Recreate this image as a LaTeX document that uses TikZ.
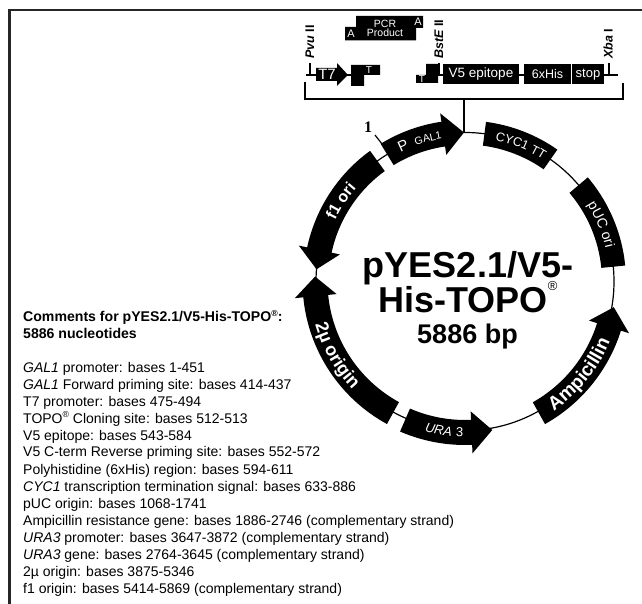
\documentclass[tikz,border=0pt]{standalone}
\usepackage{fontspec}
\setmainfont{Liberation Sans}
\setsansfont{Liberation Sans}
\usetikzlibrary{decorations.text}
\newcommand{\fsz}[1]{\fontsize{#1}{#1}\selectfont}
\newcommand{\regsup}{\raisebox{0.42em}{\fontsize{0.62em}{0.62em}\selectfont ®}}
\newcommand{\bigreg}{\raisebox{0.62em}{\fontsize{13}{13}\selectfont\mdseries ®}}
% tail angle, head-base angle, tip angle, radius
\newcommand{\plasarrow}[4]{%
 \fill[black] (#1:#4pt+12.5pt) arc[start angle=#1,end angle=#2,radius=#4pt+12.5pt]
  -- (#2:#4pt+21pt) -- (#3:#4pt) -- (#2:#4pt-21pt) -- (#2:#4pt-12.5pt)
  arc[start angle=#2,end angle=#1,radius=#4pt-12.5pt] -- cycle;}
% start angle, end angle, radius
\newcommand{\plasbar}[3]{%
 \fill[black] (#1:#3pt+12pt) arc[start angle=#1,end angle=#2,radius=#3pt+12pt]
  -- (#2:#3pt-12pt) arc[start angle=#2,end angle=#1,radius=#3pt-12pt] -- cycle;}
% centre angle, radius, font, text
\newcommand{\cwlabel}[4]{%
 \path[decorate,decoration={text effects along path,text={#4},text align=center,
   text effects/.cd,characters={text along path,text=white,font=#3}}]
  (#1+45:#2pt) arc[start angle=#1+45,end angle=#1-45,radius=#2pt];}
\newcommand{\ccwlabel}[4]{%
 \path[decorate,decoration={text effects along path,text={#4},text align=center,
   text effects/.cd,characters={text along path,text=white,font=#3}}]
  (#1-45:#2pt) arc[start angle=#1-45,end angle=#1+45,radius=#2pt];}
\tikzset{
 x=1pt,y=1pt,
 thinline/.style={line width=1.2pt,black},
 bracketline/.style={line width=2.6pt,black},
 framelinex/.style={line width=2.2pt,black!85},
 wlabel/.style={text=white,inner sep=0pt,font=\fsz{#1}},
 wlabel/.default=11,
 sitelabel/.style={rotate=90,anchor=south west,inner sep=0pt,font=\fsz{12.5}\bfseries},
 comm/.style={anchor=base west,inner sep=0pt,font=\fsz{14}},
 commb/.style={anchor=base west,inner sep=0pt,font=\fsz{14.1}\bfseries},
 title/.style={anchor=base,inner sep=0pt,font=\fsz{#1}\bfseries},
}
\begin{document}
\begin{tikzpicture}
\useasboundingbox (0,0) rectangle (642,604);
\fill[white] (0,0) rectangle (642,604);
% frame
\draw[framelinex] (9.5,0) -- (9.5,594) -- (642,594);
% plasmid
\coordinate (junction) at (464,471);
\coordinate (bracketmid) at (464,504);
\begin{scope}[shift={(465,322.5)}]
 \draw[thinline] (0,0) circle[radius=149pt];
 \plasarrow{121.5}{98.4}{90.4}{149}
 \plasbar{82.5}{55}{149}
 \plasbar{40.3}{5.7}{149}
 \plasarrow{-60.7}{-17.5}{-9.8}{151}
 \plasarrow{-113.4}{-87.5}{-79.6}{151}
 \plasarrow{241.3}{185.6}{178.1}{150}
 \plasarrow{126}{167.8}{175.3}{149}
 \cwlabel{114.5}{144}{\fsz{15}}{P}
 \cwlabel{104.5}{144.5}{\fsz{10.5}}{GAL1}
 \cwlabel{67.7}{144.5}{\fsz{12.5}}{CYC1 TT}
 \cwlabel{22.8}{144.5}{\fsz{14}}{pUC ori}
 \cwlabel{147}{143.5}{\fsz{16}\bfseries}{f1 ori}
 \ccwlabel{-39}{157}{\fsz{19}\bfseries}{Ampicillin}
 \ccwlabel{-100}{155.5}{\fsz{13}\itshape}{URA}
 \ccwlabel{-92}{155.5}{\fsz{13}}{3}
 \ccwlabel{210}{156}{\fsz{18}\bfseries}{2µ origin}
\end{scope}
\draw[bracketline] (bracketmid) -- (junction);
\draw[bracketline,line join=miter] (305,522) -- (305,505) -- (623,505) -- (623,521);
\coordinate (tickA) at (375,469);
\coordinate (tickB) at (382,460);
\draw[thinline] (tickA) -- (tickB);
\node[inner sep=0pt,font=\fontspec{Liberation Serif}\fsz{16}\bfseries] (one) at (368,477) {1};
% PCR product
\fill[black] (356,588) -- (423,588) -- (423,576) -- (416,576) -- (416,563.5) -- (345,563.5) -- (345,577) -- (356,577) -- cycle;
\node[wlabel=10.5] (pcr) at (385,580) {PCR};
\node[wlabel=10.5] (prod) at (385,571) {Product};
\node[wlabel=11] (a1) at (351,570) {A};
\node[wlabel=11] (a2) at (418,582) {A};
% left cassette
\coordinate (lineL) at (306,529);
\coordinate (pvu) at (310,541);
\coordinate (pvuB) at (310,529);
\draw[thinline] (pvu) -- (pvuB);
\draw[thinline] (lineL) -- (352,529);
\fill[black] (316,536) -- (337,536) -- (337,541) -- (348,529) -- (337,518) -- (337,523) -- (316,523) -- cycle;
\node[wlabel=15] (t7) at (327,529.5) {T7};
\fill[black] (351,539) -- (380,539) -- (380,529) -- (364,529) -- (364,518) -- (351,518) -- cycle;
\node[wlabel=10] (t1) at (369,534) {T};
\node[sitelabel] (pvul) at (314.5,545) {\itshape Pvu\/ \upshape II};
% right cassette
\fill[black] (416,529) -- (426,529) -- (426,540) -- (438,540) -- (438,521) -- (416,521) -- cycle;
\node[wlabel=10] (t2) at (422,525) {T};
\draw[thinline] (438,529) -- (443,529);
\draw[thinline] (439,541) -- (439,529);
\node[sitelabel] (bst) at (443.5,545) {\itshape BstE\/ \upshape II};
\fill[black] (443,520) rectangle (519,540);
\node[wlabel=13.5] (v5) at (481,530) {V5 epitope};
\draw[thinline] (519,529) -- (524,529);
\fill[black] (524,520) rectangle (571,540);
\node[wlabel=12.5] (his) at (547.5,530) {6xHis};
\fill[black] (572,520) rectangle (604,540);
\node[wlabel=13] (stop) at (588,529.5) {stop};
\draw[thinline] (604,529) -- (618,529);
\draw[thinline] (609,541) -- (609,529);
\node[sitelabel] (xba) at (613,545) {\itshape Xba\/ \upshape I};
% title
\node[title=36] (t1a) at (468,326) {pYES2.1/V5-};
\node[title=36] (t1b) at (468,291) {His-TOPO\bigreg};
\node[title=27] (t1c) at (467.5,260) {5886 bp};
% comments
\node[commb] (c0) at (23,282) {Comments for pYES2.1/V5-His-TOPO\regsup:};
\node[commb] (c1) at (23,265) {5886 nucleotides};
\node[comm] (c2) at (23,231) {\textit{GAL1} promoter: bases 1-451};
\node[comm] (c3) at (23,214) {\textit{GAL1} Forward priming site: bases 414-437};
\node[comm] (c4) at (23,197) {T7 promoter: bases 475-494};
\node[comm] (c5) at (23,180.5) {TOPO\regsup{} Cloning site: bases 512-513};
\node[comm] (c6) at (23,163.7) {V5 epitope: bases 543-584};
\node[comm] (c7) at (23,147) {V5 C-term Reverse priming site: bases 552-572};
\node[comm] (c8) at (23,129.5) {Polyhistidine (6xHis) region: bases 594-611};
\node[comm] (c9) at (23,112.5) {\textit{CYC1} transcription termination signal: bases 633-886};
\node[comm] (c10) at (23,95.5) {pUC origin: bases 1068-1741};
\node[comm] (c11) at (23,78.5) {Ampicillin resistance gene: bases 1886-2746 (complementary strand)};
\node[comm] (c12) at (23,61.5) {\textit{URA3} promoter: bases 3647-3872 (complementary strand)};
\node[comm] (c13) at (23,44.5) {\textit{URA3} gene: bases 2764-3645 (complementary strand)};
\node[comm] (c14) at (23,27.5) {2µ origin: bases 3875-5346};
\node[comm] (c15) at (23,10.5) {f1 origin: bases 5414-5869 (complementary strand)};
\end{tikzpicture}
\end{document}
